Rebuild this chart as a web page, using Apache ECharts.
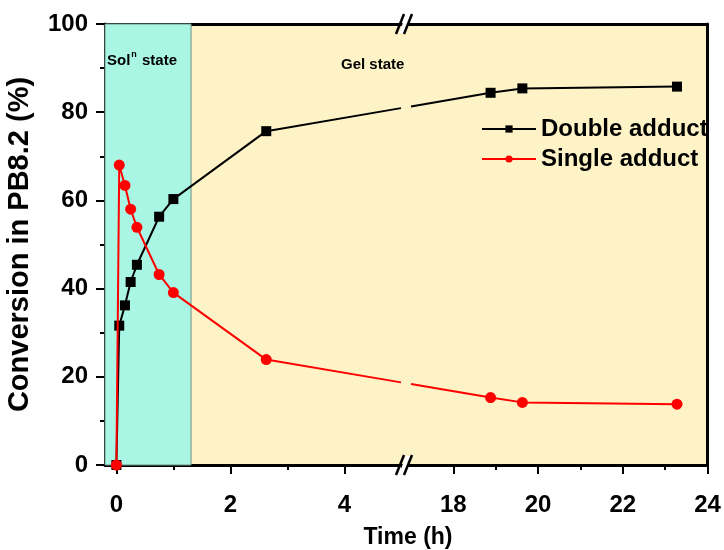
<!DOCTYPE html>
<html>
<head>
<meta charset="utf-8">
<script src="https://cdn.jsdelivr.net/npm/echarts@6/dist/echarts.min.js"></script>
<style>
html,body{margin:0;padding:0;background:#fff;}
#main{width:724px;height:550px;}
</style>
</head>
<body>
<div id="main"></div>
<script>
// ---- data ----
const timesEarly = [0, 0.05, 0.15, 0.25, 0.36, 0.75, 1.0, 2.63];
const timesLate = [18.88, 19.63, 23.28];
const doubleEarly = [0, 31.6, 36.2, 41.5, 45.4, 56.3, 60.3, 75.7];
const doubleLate = [84.4, 85.4, 85.8];
const singleEarly = [0, 68.0, 63.4, 58.0, 53.9, 43.2, 39.1, 23.9];
const singleLate = [15.3, 14.2, 13.8];
const xTicksEarly = [0, 2, 4];
const xMinorEarly = [1, 3, 5];
const xTicksLate = [18, 20, 22, 24];
const xMinorLate = [19, 21, 23];
const solutionEnd = 1.31;
const seriesNames = ['Double adduct', 'Single adduct'];

const FONT = '"Liberation Sans", Arial, sans-serif';
const zip = (xs, ys) => xs.map((x, i) => [x, ys[i]]);

const chart = echarts.init(document.getElementById('main'), null, {renderer: 'canvas'});

const lineStyleAxis = {color: '#000', width: 3};
const majorTick = {show: true, inside: false, length: 9, lineStyle: {color: '#000', width: 2}};
const minorTickAx = {show: true, inside: false, length: 5, lineStyle: {color: '#000', width: 2}};
const labelStyle = {color: '#000', fontSize: 24, fontWeight: 'bold', fontFamily: FONT};

const option = {
  animation: false,
  backgroundColor: '#fff',
  grid: [
    {left: 105, right: 319, top: 24, bottom: 85, show: true, backgroundColor: '#FDF3C6', borderWidth: 0},
    {left: 405, right: 16.5, top: 24, bottom: 85, show: true, backgroundColor: '#FDF3C6', borderWidth: 0}
  ],
  xAxis: [
    {type: 'value', gridIndex: 0, position: 'bottom', min: -0.2, max: 5.065,
     axisLine: {show: true, onZero: false, lineStyle: lineStyleAxis},
     axisTick: Object.assign({customValues: xTicksEarly}, majorTick),
     axisLabel: Object.assign({customValues: xTicksEarly, margin: 28}, labelStyle),
     splitLine: {show: false}},
    {type: 'value', gridIndex: 0, position: 'bottom', min: -0.2, max: 5.065,
     axisLine: {show: false, onZero: false},
     axisTick: Object.assign({customValues: xMinorEarly}, minorTickAx),
     axisLabel: {show: false}, splitLine: {show: false}},
    {type: 'value', gridIndex: 1, position: 'bottom', min: 16.86, max: 24,
     axisLine: {show: true, onZero: false, lineStyle: lineStyleAxis},
     axisTick: Object.assign({customValues: xTicksLate}, majorTick),
     axisLabel: Object.assign({customValues: xTicksLate, margin: 28}, labelStyle),
     splitLine: {show: false}},
    {type: 'value', gridIndex: 1, position: 'bottom', min: 16.86, max: 24,
     axisLine: {show: false, onZero: false},
     axisTick: Object.assign({customValues: xMinorLate}, minorTickAx),
     axisLabel: {show: false}, splitLine: {show: false}},
    {type: 'value', gridIndex: 0, position: 'top', min: -0.2, max: 5.065,
     axisLine: {show: true, onZero: false, lineStyle: lineStyleAxis},
     axisTick: {show: false}, axisLabel: {show: false}, splitLine: {show: false}},
    {type: 'value', gridIndex: 1, position: 'top', min: 16.86, max: 24,
     axisLine: {show: true, onZero: false, lineStyle: lineStyleAxis},
     axisTick: {show: false}, axisLabel: {show: false}, splitLine: {show: false}}
  ],
  yAxis: [
    {type: 'value', gridIndex: 0, position: 'left', min: 0, max: 100, interval: 20,
     name: 'Conversion in PB8.2 (%)', nameLocation: 'middle', nameGap: 71, nameRotate: 90,
     nameTextStyle: {color: '#000', fontSize: 29, fontWeight: 'bold', fontFamily: FONT},
     axisLine: {show: true, onZero: false, lineStyle: lineStyleAxis},
     axisTick: majorTick,
     minorTick: {show: true, splitNumber: 2, length: 5, lineStyle: {color: '#000', width: 2}},
     axisLabel: Object.assign({margin: 17}, labelStyle),
     splitLine: {show: false}},
    {type: 'value', gridIndex: 1, position: 'right', min: 0, max: 100,
     axisLine: {show: true, onZero: false, lineStyle: lineStyleAxis},
     axisTick: {show: false}, axisLabel: {show: false}, splitLine: {show: false}}
  ],
  legend: {
    orient: 'vertical', left: 481, top: 117, padding: 0, itemWidth: 54, itemHeight: 9, itemGap: 6,
    data: seriesNames,
    textStyle: {color: '#000', fontSize: 24, fontWeight: 'bold', fontFamily: FONT}
  },
  series: [
    {name: seriesNames[0], type: 'line', xAxisIndex: 0, yAxisIndex: 0, z: 3,
     data: zip(timesEarly, doubleEarly), symbol: 'rect', symbolSize: 10,
     itemStyle: {color: '#000'}, lineStyle: {color: '#000', width: 2},
     markArea: {silent: true, z: 1,
       itemStyle: {color: '#A9F6E4', borderColor: '#6f8f84', borderWidth: 1},
       data: [[{xAxis: -0.2}, {xAxis: solutionEnd}]]}},
    {name: seriesNames[0], type: 'line', xAxisIndex: 2, yAxisIndex: 1, z: 3,
     data: zip(timesLate, doubleLate), symbol: 'rect', symbolSize: 10,
     itemStyle: {color: '#000'}, lineStyle: {color: '#000', width: 2}},
    {name: seriesNames[1], type: 'line', xAxisIndex: 0, yAxisIndex: 0, z: 4,
     data: zip(timesEarly, singleEarly), symbol: 'circle', symbolSize: 11,
     itemStyle: {color: '#FF0000'}, lineStyle: {color: '#FF0000', width: 2}},
    {name: seriesNames[1], type: 'line', xAxisIndex: 2, yAxisIndex: 1, z: 4,
     data: zip(timesLate, singleLate), symbol: 'circle', symbolSize: 11,
     itemStyle: {color: '#FF0000'}, lineStyle: {color: '#FF0000', width: 2}}
  ]
};
chart.setOption(option);

// connectors across the axis break, positions computed through the chart's own scales
const breakGap = [401, 411];
const els = [];
[[doubleEarly, doubleLate, '#000'], [singleEarly, singleLate, '#FF0000']].forEach(([e, l, c]) => {
  const p1 = chart.convertToPixel({gridIndex: 0}, [timesEarly[timesEarly.length - 1], e[e.length - 1]]);
  const p2 = chart.convertToPixel({gridIndex: 1}, [timesLate[0], l[0]]);
  const yAt = x => p1[1] + (p2[1] - p1[1]) * (x - p1[0]) / (p2[0] - p1[0]);
  els.push({type: 'line', z: 2, silent: true, shape: {x1: p1[0], y1: p1[1], x2: breakGap[0], y2: yAt(breakGap[0])}, style: {stroke: c, lineWidth: 2}});
  els.push({type: 'line', z: 2, silent: true, shape: {x1: breakGap[1], y1: yAt(breakGap[1]), x2: p2[0], y2: p2[1]}, style: {stroke: c, lineWidth: 2}});
});
// break marks on the top and bottom axes
const bx = chart.convertToPixel({gridIndex: 1}, [16.86, 0])[0];
const yTop = chart.convertToPixel({gridIndex: 0}, [0, 100])[1];
const yBot = chart.convertToPixel({gridIndex: 0}, [0, 0])[1];
[yTop, yBot].forEach(yc => {
  els.push({type: 'polygon', z: 10, silent: true, shape: {points: [[bx - 6, yc + 9], [bx + 1, yc - 9], [bx + 6, yc - 9], [bx - 1, yc + 9]]}, style: {fill: '#fff'}});
  els.push({type: 'line', z: 11, silent: true, shape: {x1: bx - 9, y1: yc + 10, x2: bx - 1, y2: yc - 10}, style: {stroke: '#000', lineWidth: 2.5}});
  els.push({type: 'line', z: 11, silent: true, shape: {x1: bx - 1, y1: yc + 10, x2: bx + 7, y2: yc - 10}, style: {stroke: '#000', lineWidth: 2.5}});
});
// texts
els.push({type: 'text', z: 12, left: 107, top: 50, silent: true,
  style: {text: '{a|Sol}{s|n}{a| state}', fontFamily: FONT,
    rich: {a: {fontSize: 15, fontWeight: 'bold', fill: '#000', fontFamily: FONT, verticalAlign: 'bottom', lineHeight: 18},
           s: {fontSize: 9, fontWeight: 'bold', fill: '#000', fontFamily: FONT, verticalAlign: 'top', lineHeight: 18, padding: [0, 1, 8, 1]}}}});
els.push({type: 'text', z: 12, left: 341, top: 57, silent: true,
  style: {text: 'Gel state', fontSize: 15, fontWeight: 'bold', fill: '#000', fontFamily: FONT}});
els.push({type: 'text', z: 12, silent: true, x: 408, y: 538,
  style: {text: 'Time (h)', fontSize: 23, fontWeight: 'bold', fill: '#000', fontFamily: FONT, align: 'center', verticalAlign: 'middle'}});
chart.setOption({graphic: {elements: els}});
</script>
</body>
</html>
